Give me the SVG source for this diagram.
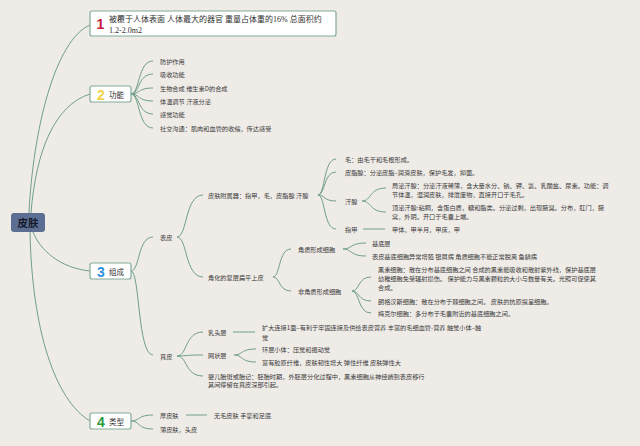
<svg xmlns="http://www.w3.org/2000/svg" width="640" height="446" viewBox="0 0 640 446">
<style>
.ln{fill:none;stroke:#6f9f8b;stroke-width:1}
.t{font-family:"Noto Sans CJK SC","Noto Sans",sans-serif;font-size:6.2px;fill:#3a3a3a;dominant-baseline:central}
.lb{font-family:"Noto Sans CJK SC","Noto Sans",sans-serif;font-size:7.5px;fill:#2e2e2e;dominant-baseline:central}
.box{fill:#ffffff;stroke:#82ab9a;stroke-width:1.2}
.num{font-family:"Liberation Sans","Noto Sans",sans-serif;font-weight:bold;font-size:14px;dominant-baseline:central}
</style>
<rect width="640" height="446" fill="#efebe7"/>
<g id="connectors">
<path class="ln" d="M29,213 C33,130 55,40 90,25"/>
<path class="ln" d="M31,213 C36,150 55,105 90,94"/>
<path class="ln" d="M33,232 C40,250 60,268 90,271"/>
<path class="ln" d="M30,232 C32,330 55,400 90,421"/>
<path class="ln" d="M131,94 C139.8,94 137.6,61 153,61"/>
<path class="ln" d="M131,94 C139.8,94 137.6,74 153,74"/>
<path class="ln" d="M131,94 C139.8,94 137.6,88 153,88"/>
<path class="ln" d="M131,94 C139.8,94 137.6,101 153,101"/>
<path class="ln" d="M131,94 C139.8,94 137.6,114 153,114"/>
<path class="ln" d="M131,94 C139.8,94 137.6,128 153,128"/>
<path class="ln" d="M131,271 C139.8,271 137.6,237 153,237"/>
<path class="ln" d="M131,271 C139.8,271 137.6,355 153,355"/>
<path class="ln" d="M177,237 C187.4,237 184.8,195 203,195"/>
<path class="ln" d="M177,237 C187.4,237 184.8,277 203,277"/>
<path class="ln" d="M318,195 C325.2,195 323.4,159 336,159"/>
<path class="ln" d="M318,195 C325.2,195 323.4,172 336,172"/>
<path class="ln" d="M318,195 C325.2,195 323.4,201 336,201"/>
<path class="ln" d="M318,195 C325.2,195 323.4,229 336,229"/>
<path class="ln" d="M362,201 C371.6,201 369.2,188 386,188"/>
<path class="ln" d="M362,201 C371.6,201 369.2,212 386,212"/>
<path class="ln" d="M363,229 L385,229"/>
<path class="ln" d="M273,277 C280.2,277 278.4,249 291,249"/>
<path class="ln" d="M273,277 C280.2,277 278.4,291 291,291"/>
<path class="ln" d="M343,249 C352.2,249 349.9,243 366,243"/>
<path class="ln" d="M343,249 C352.2,249 349.9,256 366,256"/>
<path class="ln" d="M352,291 C359.6,291 357.7,277 371,277"/>
<path class="ln" d="M352,291 C359.6,291 357.7,301 371,301"/>
<path class="ln" d="M352,291 C359.6,291 357.7,313 371,313"/>
<path class="ln" d="M177,356 C187.4,356 184.8,332 203,332"/>
<path class="ln" d="M177,356 C187.4,356 184.8,355 203,355"/>
<path class="ln" d="M177,356 C187.4,356 184.8,376 203,376"/>
<path class="ln" d="M233,332 L255,332"/>
<path class="ln" d="M234,355 C242.8,355 240.6,349 256,349"/>
<path class="ln" d="M234,355 C242.8,355 240.6,362 256,362"/>
<path class="ln" d="M131,421 C139.8,421 137.6,415 153,415"/>
<path class="ln" d="M131,421 C139.8,421 137.6,429 153,429"/>
<path class="ln" d="M186,415 L207,415"/>
</g>
<g id="root">
<rect x="11" y="213" width="34" height="19" rx="3" fill="#5c6f93"/>
<text x="28" y="222.5" text-anchor="middle" style="font-family:'Noto Sans CJK SC',sans-serif;font-size:10.5px;font-weight:bold;fill:#15182a;dominant-baseline:central">皮肤</text>
</g>
<g id="n1">
<rect class="box" x="90" y="11" width="246" height="25" rx="2"/>
<text class="num" x="96.5" y="24" fill="#c8193c">1</text>
<text x="109" y="19.5" style="font-family:'Liberation Serif','Noto Sans CJK SC',serif;font-size:8px;fill:#2e2e2e;dominant-baseline:central">被覆于人体表面 人体最大的器官 重量占体重的16% 总面积约</text>
<text x="109" y="30" style="font-family:'Liberation Serif','Noto Sans CJK SC',serif;font-size:8px;fill:#2e2e2e;dominant-baseline:central">1.2-2.0m2</text>
</g>
<g id="n2">
<rect class="box" x="90" y="86" width="41" height="16" rx="2"/>
<text class="num" x="97" y="94.5" fill="#efd24a">2</text>
<text class="lb" x="109" y="94.5">功能</text>
</g>
<g id="n2-leaves">
<text class="t" x="160" y="61">防护作用</text>
<text class="t" x="160" y="74">吸收功能</text>
<text class="t" x="160" y="88">生物合成 维生素D的合成</text>
<text class="t" x="160" y="101">体温调节 汗液分泌</text>
<text class="t" x="160" y="114">感觉功能</text>
<text class="t" x="160" y="128">社交沟通：肌肉和血管的收缩，传达感受</text>
</g>
<g id="n3">
<rect class="box" x="90" y="263" width="41" height="16" rx="2"/>
<text class="num" x="97" y="271.5" fill="#2e8fd8">3</text>
<text class="lb" x="109" y="271.5">组成</text>
</g>
<g id="biaopi">
<text class="t" x="160" y="237">表皮</text>
</g>
<g id="fushuqi">
<text class="t" x="208" y="195">皮肤附属器：指甲，毛，皮脂腺 汗腺</text>
<text class="t" x="345" y="159">毛：由毛干和毛根形成。</text>
<text class="t" x="345" y="172">皮脂腺：分泌皮脂–润滑皮肤，保护毛发，抑菌。</text>
<text class="t" x="345" y="201">汗腺</text>
<text class="t" x="392" y="185">局泌汗腺：分泌汗液稀薄，含大量水分、钠、钾、氯、乳酸盐、尿素。功能：调</text>
<text class="t" x="392" y="194">节体温，湿润皮肤，排泄废物，直接开口于毛孔。</text>
<text class="t" x="392" y="207">顶泌汗腺:粘稠，含蛋白质，糖和脂类。分泌过剩，出现腋臭。分布，肛门，腋</text>
<text class="t" x="392" y="216">窝，外阴。开口于毛囊上端。</text>
<text class="t" x="345" y="229">指甲</text>
<text class="t" x="392" y="229">甲体，甲半月，甲床，甲</text>
</g>
<g id="jiaohua">
<text class="t" x="208" y="277">角化的复层扁平上皮</text>
<text class="t" x="298" y="249">角质形成细胞</text>
<text class="t" x="372" y="243">基底层</text>
<text class="t" x="372" y="256">表皮基底细胞异常增殖 银屑病 角质细胞不能正常脱离 鱼鳞病</text>
<text class="t" x="298" y="291">非角质形成细胞</text>
<text class="t" x="378" y="269">黑素细胞：散在分布基底细胞之间 合成的黑素能吸收和散射紫外线，保护基底层</text>
<text class="t" x="378" y="278">幼稚细胞免受辐射损伤。 保护能力与黑素颗粒的大小与数量有关。光照可促使其</text>
<text class="t" x="378" y="287">合成。</text>
<text class="t" x="378" y="301">朗格汉斯细胞：散在分布于棘细胞之间。 皮肤的抗原提呈细胞。</text>
<text class="t" x="378" y="313">梅克尔细胞：多分布于毛囊附近的基底细胞之间。</text>
</g>
<g id="zhenpi">
<text class="t" x="160" y="356">真皮</text>
<text class="t" x="208" y="332">乳头层</text>
<text class="t" x="262" y="327">扩大连接1面–有利于牢固连接及供给表皮营养 丰富的毛细血管-营养 触觉小体–触</text>
<text class="t" x="262" y="337">觉</text>
<text class="t" x="208" y="355">网状层</text>
<text class="t" x="262" y="349">环层小体：压觉和振动觉</text>
<text class="t" x="262" y="362">富有胶原纤维，皮肤韧性增大 弹性纤维 皮肤弹性大</text>
<text class="t" x="208" y="376">婴儿胎斑或胎记：胚胎时期，外胚层分化过程中，黑素细胞从神经嵴到表皮移行</text>
<text class="t" x="208" y="384">其间停留在真皮深部引起。</text>
</g>
<g id="n4">
<rect class="box" x="90" y="413" width="41" height="16" rx="2"/>
<text class="num" x="97" y="421.5" fill="#2a9a3c">4</text>
<text class="lb" x="109" y="421.5">类型</text>
</g>
<g id="n4-leaves">
<text class="t" x="160" y="415">厚皮肤</text>
<text class="t" x="214" y="415">无毛皮肤 手掌和足底</text>
<text class="t" x="160" y="429">薄皮肤，头皮</text>
</g>
</svg>
